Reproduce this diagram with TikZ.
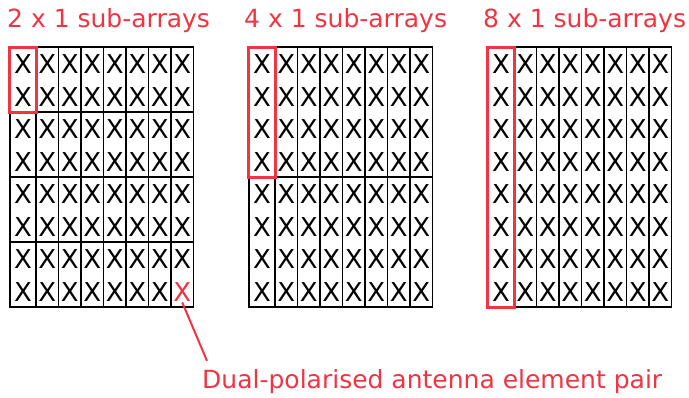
\documentclass[tikz,border=0pt]{standalone}
\usepackage{fontspec}
\setmainfont{DejaVu Sans}

\definecolor{annot}{RGB}{240,52,66}

\tikzset{
    cell/.style={draw=black, line width=1.7pt},
    subarray/.style={draw=annot, line width=3pt},
    elem/.style={inner sep=1pt, font=\fontsize{26}{30}\selectfont},
    caption/.style={anchor=base west, inner sep=0pt, text=annot, font=\fontsize{25}{30}\selectfont},
}

\begin{document}
\begin{tikzpicture}[x=1pt, y=-1pt]
    \useasboundingbox (0, 0) rectangle (689, 397);

    \node [caption] (t1) at (7, 27) {2 x 1 sub-arrays};
    \node [caption] (t2) at (244, 27) {4 x 1 sub-arrays};
    \node [caption] (t3) at (483, 27) {8 x 1 sub-arrays};

    % g = array, l = left edge, k = rows per sub-array
    \foreach \g/\l/\k in {1/10/2, 2/249/4, 3/488/8} {
        \pgfmathtruncatemacro{\nb}{8/\k - 1}
        \foreach \c in {0,...,7} {
            \pgfmathsetmacro{\xa}{ifthenelse(\c==0, \l, \l+3.5+22.5*\c)}
            \pgfmathsetmacro{\xb}{\l+3.5+22.5*(\c+1)}
            \foreach \b in {0,...,\nb}
                \draw [cell] (\xa, {47+32.5*\k*\b}) rectangle (\xb, {47+32.5*\k*(\b+1)});
            \foreach \r in {0,...,7} {
                \def\col{black}
                \ifnum\g=1 \ifnum\c=7 \ifnum\r=7 \def\col{annot}\fi\fi\fi
                \node [elem, text=\col] (g\g-\c-\r) at ({(\xa+\xb)/2}, {48+32.5*\r+16.25}) {X};
            }
        }
        % first sub-array of each array
        \draw [subarray] (\l-1, 47) rectangle (\l+26, {47+32.5*\k});
    }

    \node [caption] (lbl) at (202, 388) {Dual-polarised antenna element pair};
    \coordinate (tip) at ([xshift=5pt, yshift=8pt]lbl.north west);
    \draw [annot, line width=2pt] (g1-7-7.south) -- (tip);

\end{tikzpicture}
\end{document}
